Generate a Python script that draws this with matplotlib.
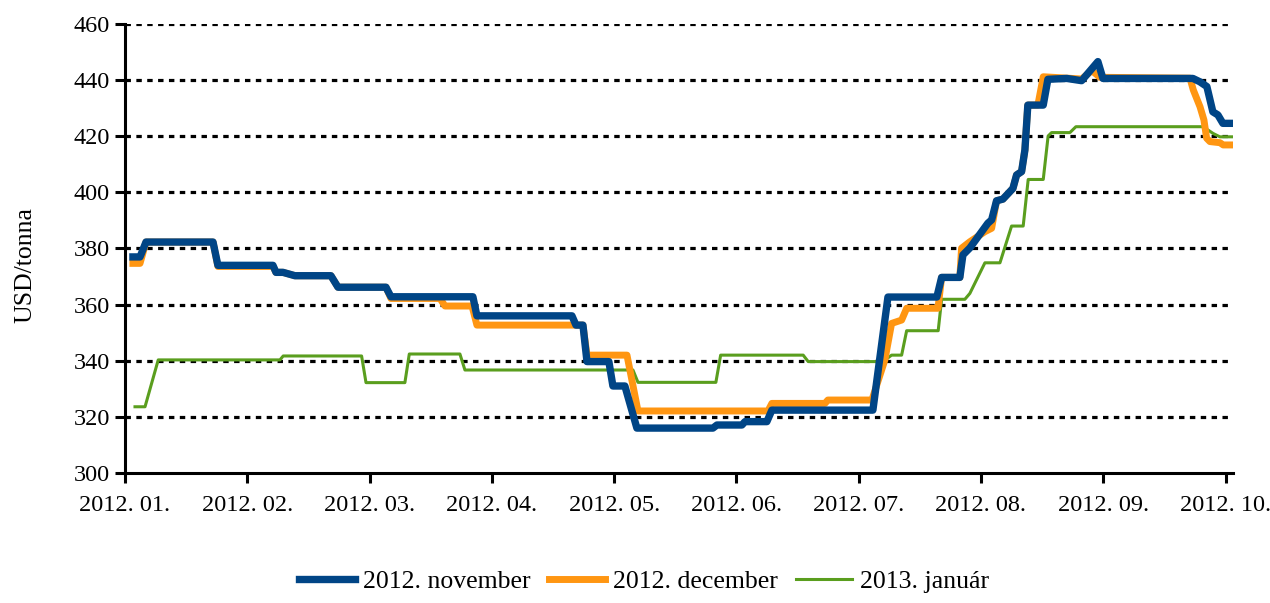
import numpy as np
import matplotlib
matplotlib.use("Agg")
import matplotlib.pyplot as plt

# x = months since 2012-01-01, y = USD/tonna
nov_x = [0.065, 0.123, 0.172, 0.720, 0.760, 1.210, 1.235, 1.292, 1.390, 1.684,
         1.742, 2.134, 2.175, 2.845, 2.878, 3.655, 3.688, 3.745, 3.778, 3.957,
         3.990, 4.088, 4.186, 4.808, 4.841, 5.045, 5.070, 5.249, 5.290, 6.116,
         6.239, 6.639, 6.678, 6.827, 6.852, 6.909, 7.056, 7.087, 7.127, 7.179,
         7.261, 7.291, 7.332, 7.359, 7.383, 7.509, 7.547, 7.702, 7.823, 7.956,
         7.997, 8.733, 8.790, 8.847, 8.896, 8.937, 8.978, 9.060]
nov_y = [377.0, 377.0, 382.3, 382.3, 374.0, 374.0, 371.5, 371.5, 370.3, 370.3,
         366.2, 366.2, 362.8, 362.8, 356.0, 356.0, 352.7, 352.7, 339.7, 339.7,
         331.0, 331.0, 316.0, 316.0, 317.1, 317.1, 318.3, 318.3, 322.4, 322.4,
         362.7, 362.7, 369.7, 369.7, 377.7, 380.2, 389.0, 390.2, 397.0, 397.6,
         401.4, 406.2, 407.4, 415.1, 431.1, 431.1, 440.3, 440.6, 439.8, 446.6,
         440.6, 440.6, 439.4, 437.7, 428.7, 427.6, 424.6, 424.6]

dec_x = [0.065, 0.123, 0.172, 0.720, 0.760, 1.210, 1.235, 1.292, 1.390, 1.684,
         1.742, 2.134, 2.175, 2.576, 2.617, 2.838, 2.878, 3.745, 3.778, 4.105,
         4.195, 5.258, 5.290, 5.724, 5.748, 6.108, 6.214, 6.269, 6.351, 6.392,
         6.648, 6.678, 6.827, 6.841, 6.909, 7.032, 7.087, 7.127, 7.179, 7.261,
         7.291, 7.332, 7.359, 7.383, 7.465, 7.509, 7.823, 7.907, 7.972, 8.709,
         8.736, 8.791, 8.823, 8.845, 8.872, 8.954, 8.981, 9.060]
dec_y = [374.7, 374.7, 382.3, 382.3, 373.6, 373.6, 371.5, 371.5, 370.3, 370.3,
         366.2, 366.2, 362.2, 362.2, 359.5, 359.5, 352.7, 352.7, 342.0, 342.0,
         322.1, 322.1, 324.8, 324.8, 326.0, 326.0, 340.3, 353.3, 354.5, 358.7,
         358.7, 369.7, 369.7, 380.1, 382.4, 386.0, 387.2, 397.0, 397.6, 401.4,
         406.2, 407.4, 415.1, 431.1, 431.1, 441.2, 440.4, 443.4, 441.0, 440.7,
         436.5, 430.5, 425.8, 419.3, 418.1, 417.7, 416.9, 416.9]

jan_x = [0.082, 0.164, 0.272, 1.267, 1.294, 1.935, 1.971, 2.289, 2.325, 2.739,
         2.780, 4.154, 4.195, 4.832, 4.871, 5.546, 5.587, 6.198, 6.269, 6.351,
         6.392, 6.650, 6.678, 6.868, 6.909, 7.032, 7.155, 7.250, 7.345, 7.386,
         7.509, 7.549, 7.577, 7.727, 7.776, 8.816, 8.898, 8.953, 9.060]
jan_y = [323.6, 323.6, 340.3, 340.3, 341.7, 341.7, 332.2, 332.2, 342.4, 342.4,
         336.7, 336.7, 332.3, 332.3, 342.0, 342.0, 339.7, 339.7, 342.0, 342.0,
         350.7, 350.7, 361.9, 361.9, 364.0, 374.9, 374.9, 388.0, 388.0, 404.6,
         404.6, 420.1, 421.3, 421.3, 423.4, 423.4, 421.0, 419.8, 419.8]

month_labels = ["2012. 01.", "2012. 02.", "2012. 03.", "2012. 04.", "2012. 05.",
                "2012. 06.", "2012. 07.", "2012. 08.", "2012. 09.", "2012. 10."]

plt.rcParams['font.family'] = ['Liberation Serif', 'DejaVu Serif']
plt.rcParams['font.size'] = 17.5

fig = plt.figure(figsize=(12.7, 6.03), dpi=100)
ax = fig.add_axes([0.0984, 0.2156, 0.8724, 0.7446])

ax.plot(jan_x, jan_y, color='#5a9e1e', linewidth=2.2, label='2013. január', zorder=3)
ax.plot(dec_x, dec_y, color='#ff9612', linewidth=5, label='2012. december', zorder=4)
ax.plot(nov_x, nov_y, color='#004586', linewidth=5.3, label='2012. november', zorder=5)

ax.set_xlim(0, 9.06)
ax.set_ylim(300, 460)
ax.set_yticks(np.arange(300, 461, 20))
ax.set_xticks(range(len(month_labels)))
ax.set_xticklabels(month_labels)

# dotted horizontal grid
for v in range(320, 461, 20):
    ax.axhline(v, color='black', linewidth=2.3, linestyle=(0, (1.7, 1.7)), zorder=1)

for s in ['top', 'right']:
    ax.spines[s].set_visible(False)
for s in ['left', 'bottom']:
    ax.spines[s].set_linewidth(2.2)
ax.tick_params(axis='both', direction='out', width=2.2, length=7, labelsize=17.5)
ax.tick_params(axis='x', pad=9)
ax.tick_params(axis='y', pad=4)

ax.set_ylabel('USD/tonna', fontsize=18.5)
ax.yaxis.set_label_coords(-0.080, 0.463)

handles, labels = ax.get_legend_handles_labels()
order = [2, 1, 0]
fig.legend([handles[i] for i in order], [labels[i] for i in order],
           loc='center', bbox_to_anchor=(0.507, 0.035), ncol=3, frameon=False,
           fontsize=18.5, handlelength=2.2, handletextpad=0.3, columnspacing=0.7)

plt.savefig('out.png', dpi=100)
